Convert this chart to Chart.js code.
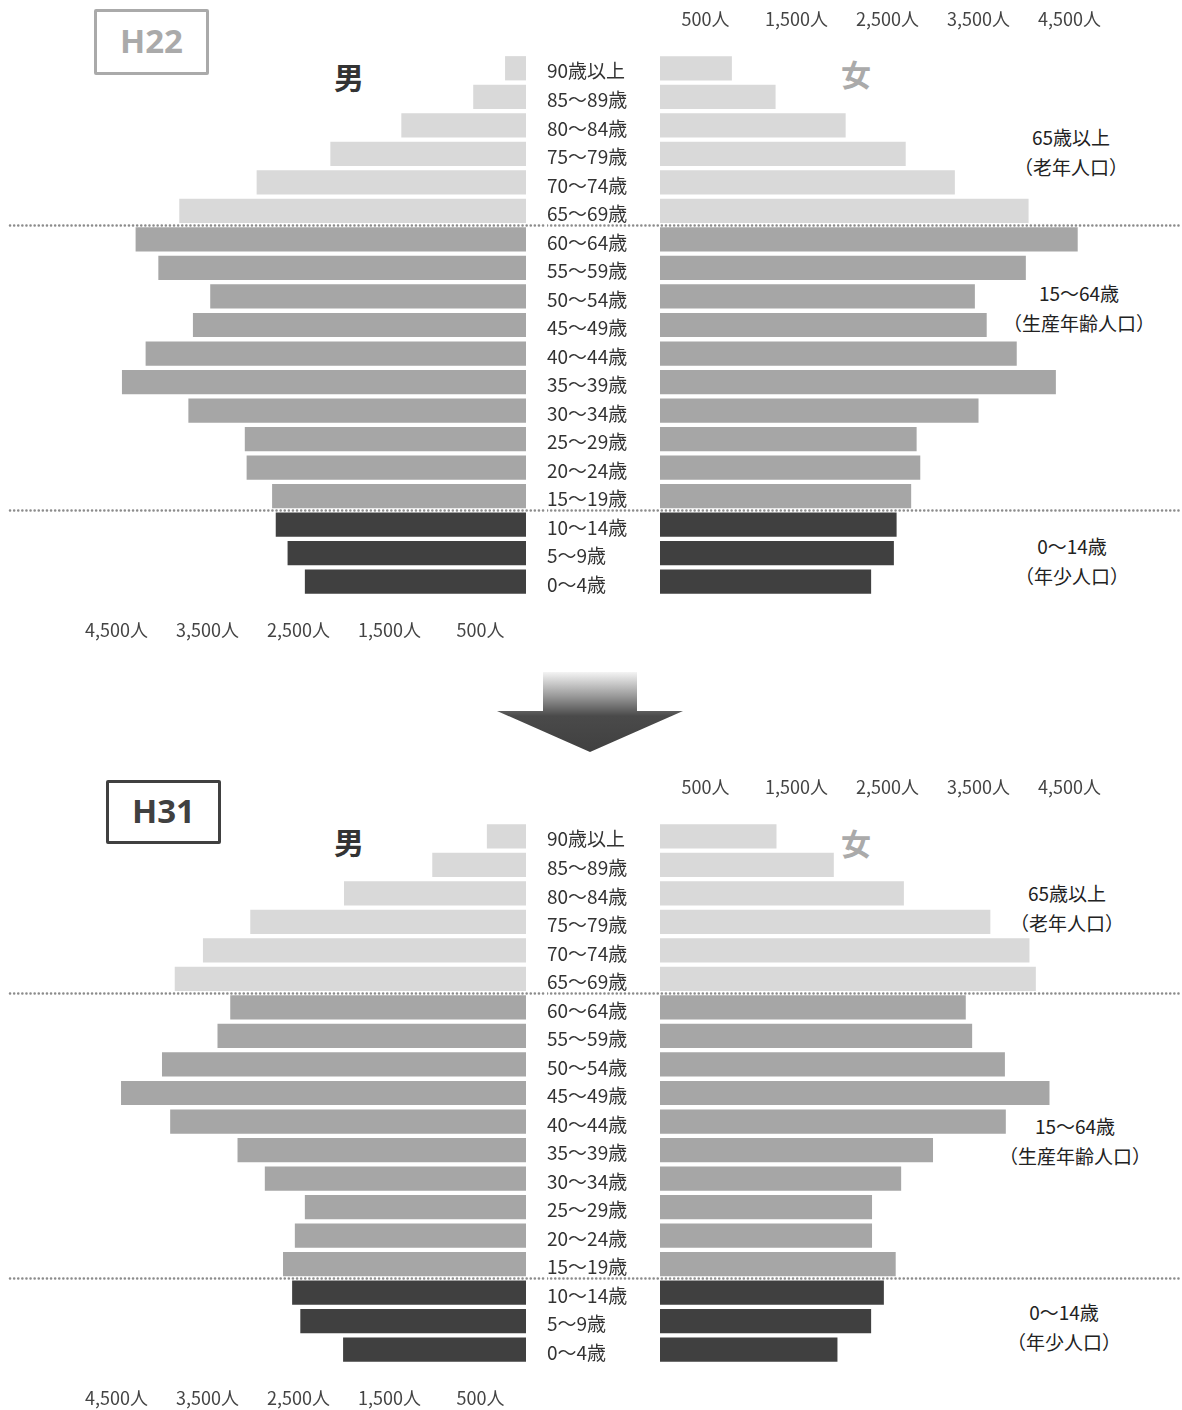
<!DOCTYPE html>
<html lang="ja">
<head>
<meta charset="utf-8">
<title>人口ピラミッド H22 / H31</title>
<script src="https://cdn.jsdelivr.net/npm/chart.js@4.4.1/dist/chart.umd.min.js"></script>
<style>
  html, body { margin: 0; padding: 0; background: #fff; }
  body { font-family: "Noto Sans CJK JP", "Noto Sans", sans-serif; color: #333; }
  #page { position: relative; width: 1182px; height: 1410px; overflow: hidden; }
  canvas { position: absolute; }
  .era {
    position: absolute; box-sizing: border-box; border: 3px solid; border-radius: 2px;
    font-weight: bold; font-size: 33px; text-align: center; font-family: "Open Sans", "Noto Sans", sans-serif;
  }
  .sex { position: absolute; font-weight: bold; font-size: 30px; line-height: 1; transform: translate(-50%, -50%); }
  .group { position: absolute; font-size: 19px; line-height: 30px; text-align: center; color: #222; transform: translateX(-50%); white-space: nowrap; }
  #arrow {
    position: absolute; left: 497px; top: 672px; width: 186px; height: 80px;
    background: linear-gradient(to bottom, #f4f4f4 0%, #9a9a9a 30%, #4a4a4a 55%, #404040 100%);
    clip-path: polygon(46px 0, 140px 0, 140px 39px, 186px 39px, 93px 80px, 0 39px, 46px 39px);
  }
</style>
</head>
<body>
<div id="page">
  <div class="era" style="left:94px;top:9px;width:115px;height:66px;line-height:58px;color:#aaa;border-color:#aaa;">H22</div>
  <div class="era" style="left:106px;top:780px;width:115px;height:64px;line-height:56px;color:#404040;border-color:#404040;">H31</div>

  <div class="sex" style="left:349px;top:76px;color:#333;">男</div>
  <div class="sex" style="left:856px;top:73px;color:#aaa;">女</div>
  <div class="sex" style="left:349px;top:841px;color:#333;">男</div>
  <div class="sex" style="left:856px;top:842px;color:#aaa;">女</div>

  <div class="group" style="left:1071px;top:122px;">65歳以上<br>（老年人口）</div>
  <div class="group" style="left:1079px;top:278px;">15〜64歳<br>（生産年齢人口）</div>
  <div class="group" style="left:1072px;top:531px;">0〜14歳<br>（年少人口）</div>
  <div class="group" style="left:1067px;top:878px;">65歳以上<br>（老年人口）</div>
  <div class="group" style="left:1075px;top:1111px;">15〜64歳<br>（生産年齢人口）</div>
  <div class="group" style="left:1064px;top:1297px;">0〜14歳<br>（年少人口）</div>

  <div id="arrow"></div>

  <canvas id="h22Male" width="547" height="598" style="left:0;top:54px;"></canvas>
  <canvas id="h22Female" width="635" height="596" style="left:547px;top:0;"></canvas>
  <canvas id="h31Male" width="547" height="598" style="left:0;top:822px;"></canvas>
  <canvas id="h31Female" width="635" height="596" style="left:547px;top:768px;"></canvas>
</div>

<script>
// 年齢階級（上から下へ）
const AGE_LABELS = [
  '90歳以上', '85〜89歳', '80〜84歳', '75〜79歳', '70〜74歳', '65〜69歳',
  '60〜64歳', '55〜59歳', '50〜54歳', '45〜49歳', '40〜44歳', '35〜39歳',
  '30〜34歳', '25〜29歳', '20〜24歳', '15〜19歳', '10〜14歳', '5〜9歳', '0〜4歳'
];

// 人口（人）
const H22_MALE   = [230, 580, 1370, 2150, 2960, 3810, 4290, 4040, 3470, 3660, 4180, 4440, 3710, 3090, 3070, 2790, 2750, 2620, 2430];
const H22_FEMALE = [790, 1270, 2040, 2700, 3240, 4050, 4590, 4020, 3460, 3590, 3920, 4350, 3500, 2820, 2860, 2760, 2600, 2570, 2320];
const H31_MALE   = [430, 1030, 2000, 3030, 3550, 3860, 3250, 3390, 4000, 4450, 3910, 3170, 2870, 2430, 2540, 2670, 2570, 2480, 2010];
const H31_FEMALE = [1280, 1910, 2680, 3630, 4060, 4130, 3360, 3430, 3790, 4280, 3800, 3000, 2650, 2330, 2330, 2590, 2460, 2320, 1950];

// 目盛り
const AXIS_TICKS = [500, 1500, 2500, 3500, 4500];

// 区分の境目（この番号の階級の下に点線）
const DIVIDE_AFTER = [5, 15];

// 65歳以上 / 15〜64歳 / 0〜14歳
const barColors = AGE_LABELS.map((_, i) => i <= 5 ? '#d9d9d9' : (i <= 15 ? '#a6a6a6' : '#404040'));

const FONT = "'Noto Sans CJK JP', 'Noto Sans', sans-serif";

const dividerPlugin = {
  id: 'dividers',
  afterDatasetsDraw(chart, args, opts) {
    const y = chart.scales.y;
    const ctx = chart.ctx;
    ctx.save();
    ctx.strokeStyle = '#8c8c8c';
    ctx.lineWidth = 2.5;
    ctx.lineCap = 'round';
    ctx.setLineDash([0.1, 4]);
    DIVIDE_AFTER.forEach(i => {
      const py = Math.round((y.getPixelForValue(i) + y.getPixelForValue(i + 1)) / 2) + 0.5;
      ctx.beginPath();
      ctx.moveTo(opts.from || 0, py);
      ctx.lineTo(chart.width, py);
      ctx.stroke();
    });
    ctx.restore();
  }
};

function xAxis(max, position, reverse, size, pad) {
  return {
    type: 'linear', min: 0, max: max, reverse: reverse, position: position,
    grid: { display: false, drawTicks: false },
    border: { display: false },
    afterBuildTicks: s => { s.ticks = AXIS_TICKS.map(v => ({ value: v })); },
    afterFit: s => { s.height = size; },
    ticks: {
      padding: pad, autoSkip: false, maxRotation: 0, color: '#444',
      font: { family: FONT, size: 18 },
      callback: v => v.toLocaleString('en-US') + '人'
    }
  };
}

function barData(values) {
  return {
    labels: AGE_LABELS,
    datasets: [{
      data: values,
      backgroundColor: barColors,
      barPercentage: 0.85,
      categoryPercentage: 1
    }]
  };
}

function maleChart(id, values) {
  return new Chart(document.getElementById(id), {
    type: 'bar',
    data: barData(values),
    options: {
      indexAxis: 'y',
      responsive: false,
      animation: false,
      layout: { padding: { right: 21 } },
      plugins: { legend: { display: false }, tooltip: { enabled: false }, dividers: { from: 10 } },
      scales: {
        x: xAxis(5780, 'bottom', true, 56, 23),
        y: { display: false }
      }
    },
    plugins: [dividerPlugin]
  });
}

function femaleChart(id, values) {
  return new Chart(document.getElementById(id), {
    type: 'bar',
    data: barData(values),
    options: {
      indexAxis: 'y',
      responsive: false,
      animation: false,
      plugins: { legend: { display: false }, tooltip: { enabled: false }, dividers: { from: 0 } },
      scales: {
        x: xAxis(5736, 'top', false, 54, 24),
        y: {
          position: 'left',
          grid: { display: false, drawTicks: false },
          border: { display: false },
          afterFit: s => { s.width = 113; s.paddingTop = 0; s.paddingBottom = 0; },
          ticks: { crossAlign: 'far', labelOffset: 3, color: '#333', font: { family: FONT, size: 19 } }
        }
      }
    },
    plugins: [dividerPlugin]
  });
}

maleChart('h22Male', H22_MALE);
femaleChart('h22Female', H22_FEMALE);
maleChart('h31Male', H31_MALE);
femaleChart('h31Female', H31_FEMALE);
</script>
</body>
</html>
